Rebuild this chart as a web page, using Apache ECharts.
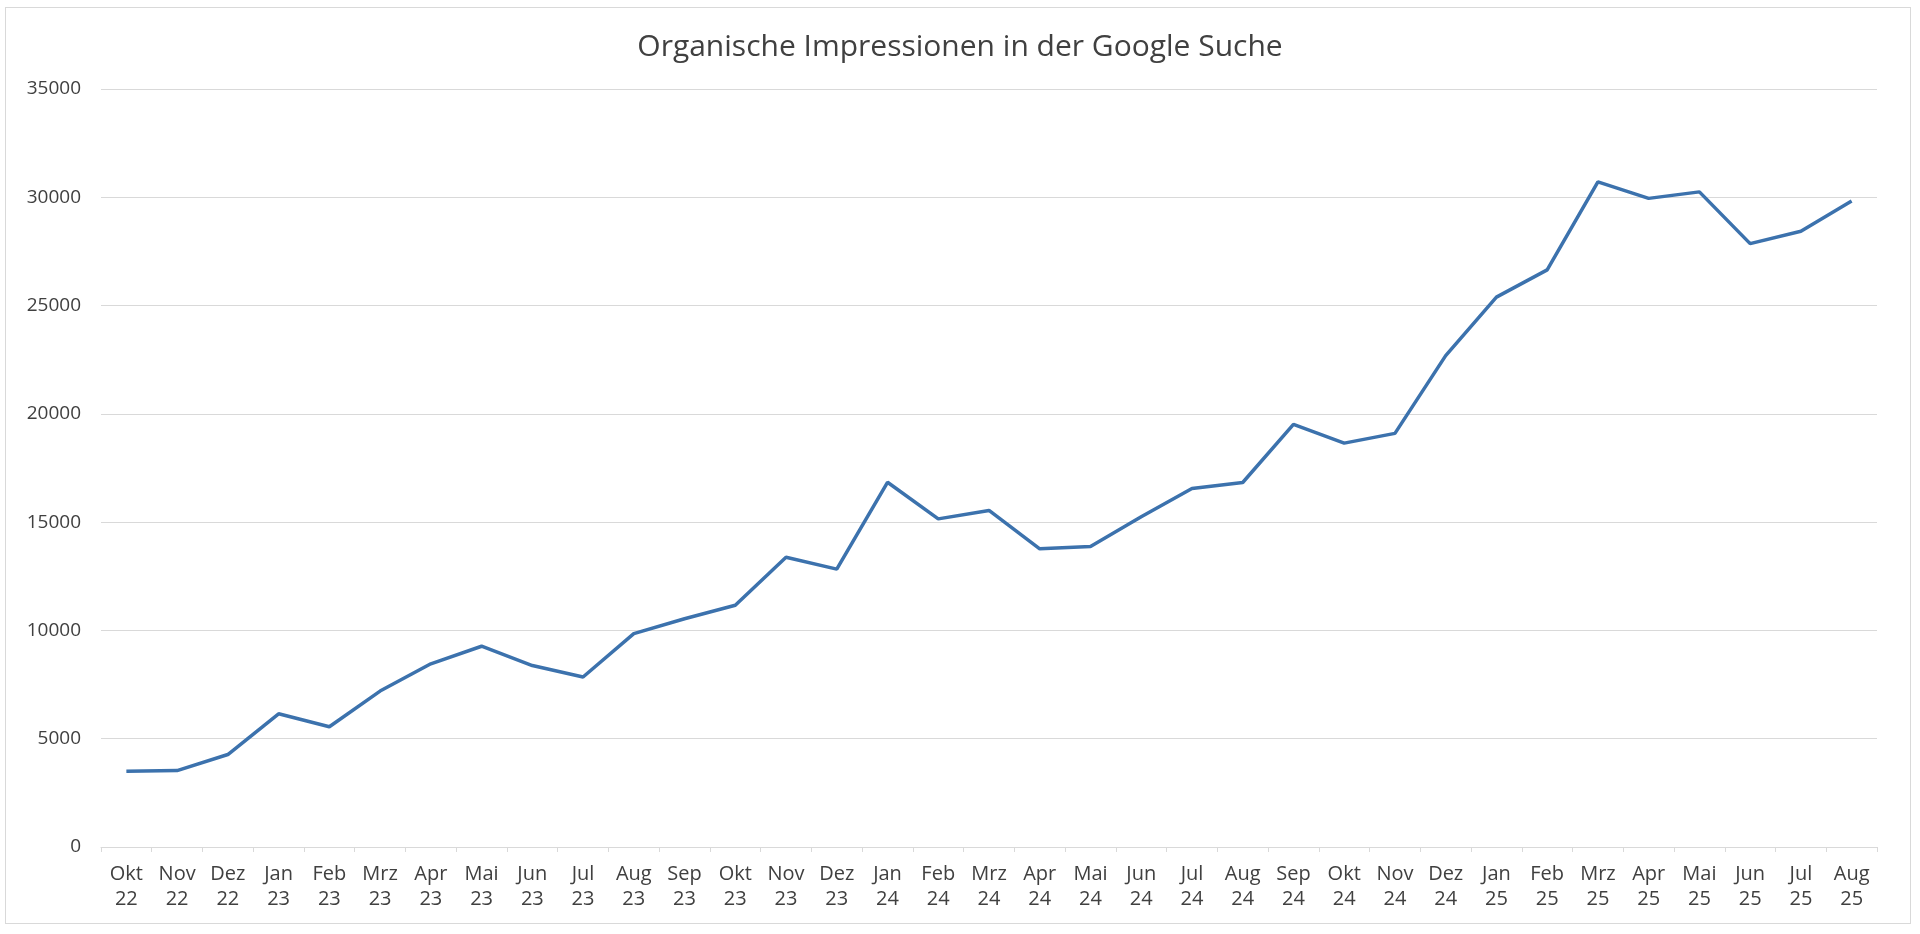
<!DOCTYPE html>
<html lang="de">
<head>
    <meta charset="UTF-8">
    <title>Organische Impressionen</title>
    <style>
        *{ margin: 0; padding: 0;}
        html, body{ width: 1920px; height: 934px; background: #fff; overflow: hidden;}
        .frame{ position: absolute; left: 5px; top: 7px; width: 1906px; height: 917px; border: 1px solid #d9d9d9; box-sizing: border-box;}
        .chart{ position: absolute; left: 0; top: 0; width: 1920px; height: 934px;}
    </style>
    <script src="https://cdn.jsdelivr.net/npm/echarts@6/dist/echarts.min.js"></script>
</head>
<body>
    <div class="frame"></div>
    <div class="chart"></div>
    <script>
        // Monate und Jahre der x-Achse
        var months = ["Okt", "Nov", "Dez",
            "Jan", "Feb", "Mrz", "Apr", "Mai", "Jun", "Jul", "Aug", "Sep", "Okt", "Nov", "Dez",
            "Jan", "Feb", "Mrz", "Apr", "Mai", "Jun", "Jul", "Aug", "Sep", "Okt", "Nov", "Dez",
            "Jan", "Feb", "Mrz", "Apr", "Mai", "Jun", "Jul", "Aug"];
        var years = ["22", "22", "22",
            "23", "23", "23", "23", "23", "23", "23", "23", "23", "23", "23", "23",
            "24", "24", "24", "24", "24", "24", "24", "24", "24", "24", "24", "24",
            "25", "25", "25", "25", "25", "25", "25", "25"];

        // Impressionen pro Monat
        var impressions = [3500, 3530, 4270, 6150, 5550, 7200, 8460, 9270, 8380, 7850,
            9850, 10540, 11160, 13380, 12830, 16840, 15150, 15540, 13770, 13870,
            15250, 16550, 16830, 19510, 18650, 19100, 22690, 25390, 26650, 30710,
            29950, 30250, 27860, 28430, 29830];

        var yMin = 0;
        var yMax = 35000;
        var yStep = 5000;

        var categories = months.map(function (m, i) {
            return m + "\n" + years[i];
        });

        var font = "'Open Sans', 'Noto Sans', sans-serif";
        var myChart = echarts.init(document.querySelector(".chart"));

        var option = {
            animation: false,
            title: {
                text: "Organische Impressionen in der Google Suche",
                left: "center",
                top: 27,
                textStyle: {
                    fontFamily: font,
                    fontSize: 30,
                    fontWeight: "normal",
                    color: "#404040"
                }
            },
            grid: {
                left: 101,
                right: 43,
                top: 89,
                bottom: 87
            },
            xAxis: {
                type: "category",
                data: categories,
                boundaryGap: true,
                axisLine: {
                    lineStyle: { color: "#d9d9d9", width: 1 }
                },
                axisTick: {
                    show: true,
                    length: 5,
                    lineStyle: { color: "#d9d9d9" }
                },
                axisLabel: {
                    interval: 0,
                    margin: 15,
                    fontFamily: font,
                    fontSize: 20,
                    lineHeight: 25,
                    color: "#404040"
                }
            },
            yAxis: {
                type: "value",
                min: yMin,
                max: yMax,
                interval: yStep,
                axisLine: { show: false },
                axisTick: { show: false },
                splitLine: {
                    lineStyle: { color: "#d9d9d9", width: 1 }
                },
                axisLabel: {
                    margin: 20,
                    fontFamily: font,
                    fontSize: 19,
                    color: "#404040",
                    formatter: function (v) {
                        return String(v);
                    }
                }
            },
            series: [
                {
                    name: "Impressionen",
                    type: "line",
                    data: impressions,
                    showSymbol: false,
                    smooth: false,
                    lineStyle: {
                        color: "#3c72ad",
                        width: 3.5
                    },
                    itemStyle: { color: "#3c72ad" }
                }
            ]
        };
        myChart.setOption(option);
    </script>
</body>
</html>
